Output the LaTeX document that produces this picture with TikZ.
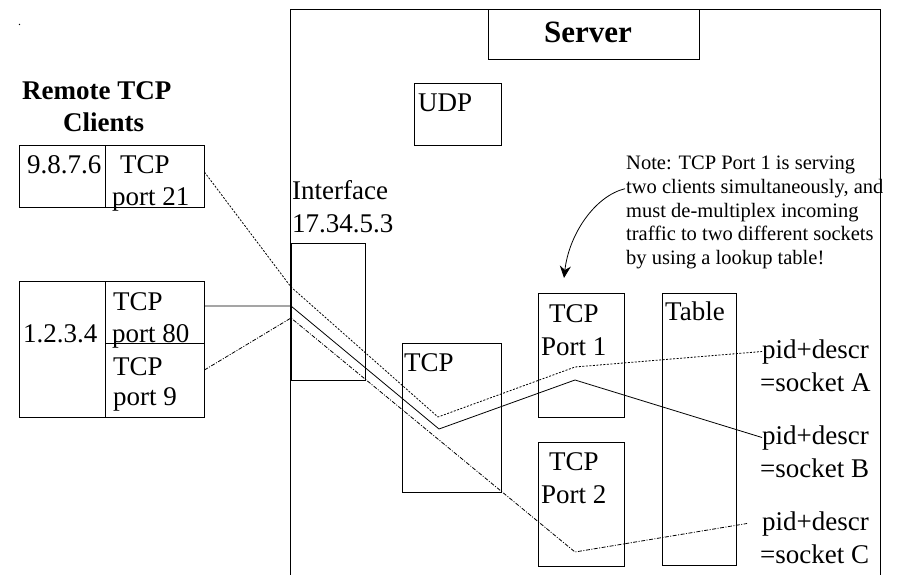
\documentclass[tikz,border=0pt]{standalone}
\usepackage{fontspec}
\setmainfont{Liberation Serif}
\usetikzlibrary{fit,arrows.meta}
\begin{document}
\begin{tikzpicture}[x=1pt,y=-1pt,
  box/.style={draw, line width=0.8pt, inner sep=0pt},
  lbl/.style={anchor=base west, inner sep=0pt, font=\fontsize{27}{32}\selectfont},
  ttl/.style={anchor=base west, inner sep=0pt, font=\fontsize{27}{32}\selectfont\bfseries},
  notetxt/.style={anchor=base west, inner sep=0pt, font=\fontsize{20.5}{23.6}\selectfont},
  wire/.style={line width=0.8pt},
  dotw/.style={wire, dash pattern=on 2pt off 1.5pt},
  dashdotw/.style={wire, dash pattern=on 4pt off 1.5pt on 1pt off 1.5pt},
]
\useasboundingbox (0,0) rectangle (900,575);
% tiny dot
\node[anchor=base west, inner sep=0pt, font=\fontsize{12}{14}\selectfont] (dot) at (18,26) {.};
% server
\node[box, fit={(290,9) (880,600)}] (server) {};
\node[box, fit={(488,9) (699,59)}] (serverlbl) {};
\node[ttl, anchor=base, font=\fontsize{31}{36}\selectfont\bfseries] (servertxt) at (588,43) {Server};
\node[box, fit={(414,83) (501,145)}] (udp) {};
\node[lbl] (udptxt) at (418,112) {UDP};
% remote clients
\node[ttl] (rt1) at (22,100) {Remote TCP};
\node[ttl] (rt2) at (63,132) {Clients};
\node[box, fit={(19,145) (105,207)}] (ip1) {};
\node[box, fit={(105,145) (204,207)}] (p21) {};
\node[lbl] (ip1t) at (27,174) {9.8.7.6};
\node[lbl] (p21a) at (120,174) {TCP};
\node[lbl] (p21b) at (112,205) {port 21};
\node[box, fit={(19,281) (105,417)}] (ip2) {};
\node[box, fit={(105,281) (204,343)}] (p80) {};
\node[box, fit={(105,343) (204,417)}] (p9) {};
\node[lbl] (ip2t) at (23,342) {1.2.3.4};
\node[lbl] (p80a) at (113,310) {TCP};
\node[lbl] (p80b) at (112,342) {port 80};
\node[lbl] (p9a) at (113,375) {TCP};
\node[lbl] (p9b) at (113,405) {port 9};
% interface
\node[lbl] (if1) at (292,200) {Interface};
\node[lbl] (if2) at (292,232) {17.34.5.3};
\node[box, fit={(291,243) (365,380)}] (iface) {};
% TCP
\node[box, fit={(402,343) (501,492)}] (tcp) {};
\node[lbl] (tcpt) at (404,371) {TCP};
\node[box, fit={(538,293) (624,417)}] (port1) {};
\node[lbl] (port1a) at (549,322) {TCP};
\node[lbl] (port1b) at (541,355) {Port 1};
\node[box, fit={(538,442) (624,566)}] (port2) {};
\node[lbl] (port2a) at (549,470) {TCP};
\node[lbl] (port2b) at (541,503) {Port 2};
\node[box, fit={(662,293) (736,565)}] (table) {};
\node[lbl] (tablet) at (665,320) {Table};
% sockets
\node[lbl] (pidA) at (762,358) {pid+descr};
\node[lbl] (sockA) at (760,391) {=socket A};
\node[lbl] (pidB) at (762,444) {pid+descr};
\node[lbl] (sockB) at (760,477) {=socket B};
\node[lbl] (pidC) at (762,530) {pid+descr};
\node[lbl] (sockC) at (760,563) {=socket C};
% note
\node[notetxt] (n1) at (626,170) {Note: TCP Port 1 is serving};
\node[notetxt] (n2) at (626,193.6) {two clients simultaneously, and};
\node[notetxt] (n3) at (626,217.2) {must de-multiplex incoming};
\node[notetxt] (n4) at (626,240.8) {traffic to two different sockets};
\node[notetxt] (n5) at (626,264.4) {by using a lookup table!};
\coordinate (arrE) at (564,278);
\draw[wire, -{Stealth[length=12pt,width=11pt]}] ([xshift=-1pt]n2.west) .. controls (595,196) and (569,234) .. (arrE);
% wires
\coordinate (a1) at (291,287);
\coordinate (a2) at (438,417);
\coordinate (a3) at (575,367);
\draw[dotw] ([yshift=4pt]p21.east) -- (a1) -- (a2) -- (a3) -- (pidA.west);
\coordinate (b1) at (291,306);
\coordinate (b2) at (439,429);
\coordinate (b3) at (575,380);
\draw[wire] ([yshift=6pt]p80.east) -- (b1) -- (b2) -- (b3) -- (pidB.west);
\coordinate (c1) at (291,318);
\coordinate (c2) at (575,552);
\draw[dashdotw] ([yshift=10pt]p9.east) -- (c1) -- (c2) -- ([xshift=-15pt]pidC.west);
\end{tikzpicture}
\end{document}
